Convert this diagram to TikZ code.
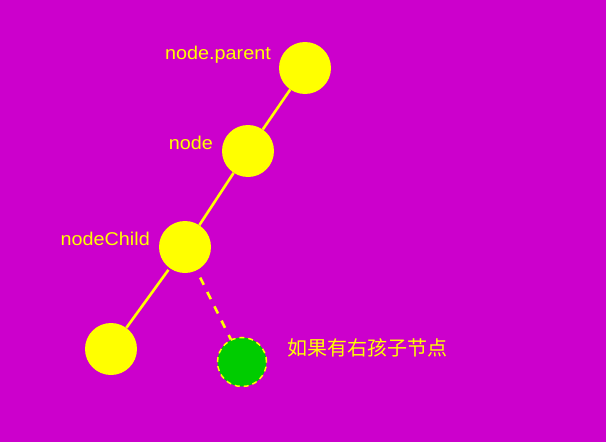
\documentclass[tikz,border=0pt]{standalone}
\usepackage{fontspec}
\setmainfont{Liberation Sans}
\newfontfamily\cjk{Noto Sans CJK SC}
\definecolor{bgmag}{HTML}{CC00CC}
\definecolor{yel}{HTML}{FFFF00}
\definecolor{grn}{HTML}{00CC00}
\newcommand{\wide}[1]{\scalebox{1.07}[1]{#1}}
\begin{document}
\begin{tikzpicture}[x=1pt,y=-1pt,
  tnode/.style={circle,fill=yel,minimum size=52pt,inner sep=0pt},
  gnode/.style={circle,fill=grn,draw=yel,dashed,line width=1.5pt,dash pattern=on 5pt off 4pt,minimum size=49pt,inner sep=0pt},
  edge/.style={draw=yel,line width=2.6pt},
  dedge/.style={draw=yel,line width=2.6pt,dash pattern=on 8pt off 8pt},
  lbl/.style={text=yel,font=\fontsize{18.5}{20}\selectfont,inner sep=0pt}]
\fill[bgmag] (0,0) rectangle (606,442);
\useasboundingbox (0,0) rectangle (606,442);
\node[tnode] (p) at (305,68) {};
\node[tnode] (n) at (248,151) {};
\node[tnode] (c) at (185,247) {};
\node[tnode] (l) at (111,349) {};
\node[gnode] (r) at (242,362) {};
\node[lbl,anchor=east] (lp) at (271,55) {\wide{node.parent}};
\node[lbl,anchor=east] (ln) at (213,143) {\wide{node}};
\node[lbl,anchor=east] (lc) at (150,239) {\wide{nodeChild}};
\node[lbl,anchor=west,font=\cjk\fontsize{20}{22}\selectfont] (lr) at (287,348) {如果有右孩子节点};
\draw[edge] (p) -- (n);
\draw[edge] (n) -- (c);
\draw[edge,shorten <=2pt] (c) -- (l);
\draw[dedge,shorten <=8pt] (c) -- (r);
\end{tikzpicture}
\end{document}
